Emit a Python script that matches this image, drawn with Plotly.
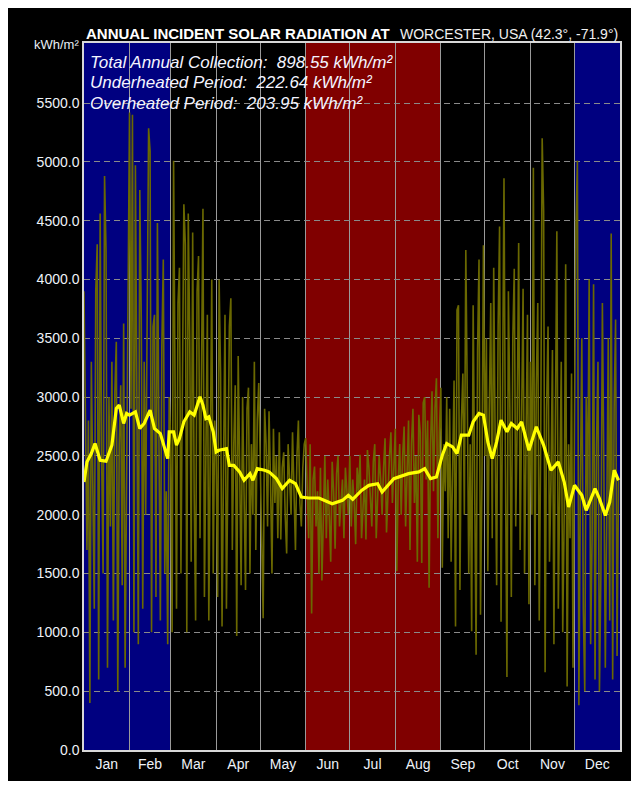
import plotly.graph_objects as go

# ---------------- data ----------------
month_names = ["Jan", "Feb", "Mar", "Apr", "May", "Jun", "Jul", "Aug", "Sep", "Oct", "Nov", "Dec"]
month_lengths = [31, 28, 31, 30, 31, 30, 31, 31, 30, 31, 30, 31]

jan_vals = [3900, 2600, 1700, 2800, 400, 3300, 2100, 1200, 3900, 4300, 600, 4560, 2500, 1500, 4880, 4250, 700, 3000, 1900, 3300, 1100, 3040, 3470, 500, 2600, 3100, 1400, 3625, 700, 2400, 4000]
feb_vals = [5420, 2900, 5400, 1000, 4970, 3000, 900, 4760, 3680, 1200, 3300, 2000, 4200, 5285, 5090, 1000, 3600, 3700, 1300, 4480, 2700, 1100, 3430, 4170, 1500, 2200, 900, 3000]
mar_vals = [2650, 1000, 5010, 3100, 1200, 3800, 4100, 1500, 2900, 4640, 4300, 1000, 4560, 3500, 1600, 4400, 2200, 1100, 3900, 4200, 1800, 3300, 4600, 1300, 2500, 3700, 1100, 3000, 4000, 1500, 2800]
apr_vals = [2500, 1300, 4000, 3200, 1050, 2800, 3700, 1200, 2300, 3600, 3840, 1700, 2600, 3100, 970, 3350, 2400, 1400, 3000, 2200, 1360, 2900, 3080, 1500, 2600, 2000, 3300, 1700, 2800, 3120]
may_vals = [2400, 1800, 1120, 2900, 2600, 1900, 2880, 2300, 1500, 2730, 2100, 2500, 1800, 2700, 1790, 2400, 2530, 2000, 1670, 2600, 2300, 2000, 2700, 2200, 1700, 2500, 2800, 2100, 1900, 2400, 2600]
jun_vals = [2650, 2100, 1800, 2600, 1160, 2300, 2410, 1900, 2200, 1500, 2400, 1440, 2100, 2500, 1800, 2300, 2000, 1600, 2450, 2200, 1710, 2350, 2500, 1900, 2100, 2300, 1800, 2400, 2200, 2000]
jul_vals = [2500, 1900, 2300, 2100, 1750, 2400, 2200, 2510, 1800, 2000, 2300, 1790, 2550, 2400, 2100, 1900, 2450, 2600, 1800, 2200, 2500, 2300, 2000, 2400, 2650, 1850, 2200, 2500, 2700, 2100, 2400]
aug_vals = [2730, 1520, 2300, 2600, 2000, 2500, 2750, 1900, 2400, 2800, 1700, 2600, 2900, 2100, 2500, 1600, 2850, 2700, 1590, 2950, 3000, 2300, 2800, 1380, 2600, 3050, 2200, 2900, 3160, 1800, 2700]
sep_vals = [3080, 1550, 2600, 2200, 3000, 1800, 2900, 1600, 2500, 3140, 1050, 3740, 3780, 1360, 2800, 3200, 2000, 4250, 3000, 1500, 2600, 1010, 3780, 2500, 810, 3400, 4170, 1150, 2300, 4290]
oct_vals = [2500, 3500, 1520, 2900, 3800, 1800, 4100, 2600, 1400, 3600, 4450, 1090, 3200, 4860, 2400, 620, 3900, 2900, 1300, 3500, 4090, 1900, 2800, 4310, 1700, 3000, 3920, 1500, 2700, 3700, 1240]
nov_vals = [3300, 2000, 4950, 1400, 3100, 3800, 1100, 2600, 5200, 4580, 660, 2900, 3600, 1600, 2300, 3400, 900, 2800, 4410, 1200, 2400, 3300, 1000, 2000, 4130, 540, 2600, 1800, 3200, 700]
dec_vals = [2800, 4470, 5010, 380, 2200, 3500, 1200, 500, 3000, 2100, 4000, 900, 1800, 3960, 600, 2600, 3300, 500, 1500, 3800, 2400, 700, 2000, 3500, 1100, 4390, 600, 2900, 3660, 800, 2300]

# moving-average (yellow) line, read at sample days
avg_days = [0, 2, 5, 7.5, 11, 15, 19, 22, 24, 27, 29, 31, 35, 38, 41, 45, 48, 52, 55, 57, 58, 61, 63, 65, 68, 72, 75, 79, 81, 83, 85, 88, 90, 92, 97, 99, 102, 106, 109, 113, 115, 118, 123, 126, 131, 135, 140, 144, 148, 153, 160, 169, 176, 180, 183, 189, 194, 200, 203, 211, 221, 228, 232, 236, 240, 244, 247, 251, 254, 257, 262, 265, 269, 272, 275, 278, 281, 284, 288, 291, 295, 298, 303, 308, 313, 318, 323, 327, 330, 334, 339, 342, 348, 351, 355, 358, 361, 364]
avg_vals = [2278, 2449, 2520, 2605, 2463, 2455, 2591, 2903, 2932, 2776, 2861, 2847, 2875, 2733, 2776, 2889, 2733, 2690, 2562, 2477, 2705, 2705, 2591, 2648, 2790, 2875, 2847, 3003, 2932, 2818, 2832, 2705, 2534, 2548, 2562, 2420, 2420, 2364, 2293, 2349, 2293, 2392, 2378, 2364, 2307, 2222, 2293, 2264, 2150, 2142, 2142, 2094, 2122, 2165, 2131, 2207, 2250, 2264, 2193, 2307, 2349, 2364, 2392, 2307, 2321, 2506, 2605, 2577, 2520, 2676, 2676, 2790, 2861, 2847, 2619, 2477, 2619, 2804, 2705, 2776, 2733, 2790, 2548, 2747, 2591, 2378, 2449, 2278, 2065, 2250, 2165, 2037, 2222, 2137, 1994, 2108, 2378, 2293]

y_ticks = [0, 500, 1000, 1500, 2000, 2500, 3000, 3500, 4000, 4500, 5000, 5500]

title_text = "ANNUAL INCIDENT SOLAR RADIATION AT"
location_text = "WORCESTER, USA (42.3°, -71.9°)"
unit_text = "kWh/m²"
info_lines = ["Total Annual Collection:  898.55 kWh/m²",
              "Underheated Period:  222.64 kWh/m²",
              "Overheated Period:  203.95 kWh/m²"]

# ---------------- derived ----------------
daily_vals = (jan_vals + feb_vals + mar_vals + apr_vals + may_vals + jun_vals +
              jul_vals + aug_vals + sep_vals + oct_vals + nov_vals + dec_vals)
days = list(range(len(daily_vals)))
month_starts = [0]
for n in month_lengths:
    month_starts.append(month_starts[-1] + n)
month_mids = [month_starts[i] + month_lengths[i] / 2 for i in range(12)]
boundaries = month_starts[1:-1]

# page geometry (the page body has an 8px margin)
W, H = 623, 773
L, R, T, B = 84, 622, 43, 750          # plot box in page pixels
OFF = 8
pw, ph = R - L, B - T


def px_x(x):
    return (x - L) / pw


def px_y(y):
    return (B - y) / ph


FONT = "Liberation Sans, Arial"

fig = go.Figure()
fig.add_trace(go.Scatter(x=days, y=daily_vals, mode="lines",
                         line=dict(color="#6a6800", width=1.6),
                         showlegend=False, hoverinfo="skip"))
fig.add_trace(go.Scatter(x=avg_days, y=avg_vals, mode="lines",
                         line=dict(color="#ffff00", width=3.2),
                         showlegend=False, hoverinfo="skip"))

shapes = []
for (a, b, col) in [(month_starts[0], month_starts[2], "#000080"),
                    (month_starts[5], month_starts[8], "#800000"),
                    (month_starts[11], month_starts[12], "#000080")]:
    shapes.append(dict(type="rect", xref="x", yref="paper", x0=a, x1=b, y0=0, y1=1,
                       fillcolor=col, line=dict(width=0), layer="below"))

annotations = []
annotations.append(dict(xref="paper", yref="paper", x=0, y=px_y(34), xanchor="left", yanchor="middle",
                        text="<b>" + title_text + "</b>", showarrow=False,
                        font=dict(family=FONT, size=15, color="white")))
annotations.append(dict(xref="paper", yref="paper", x=1, y=px_y(34), xanchor="right", yanchor="middle",
                        text=location_text, showarrow=False,
                        font=dict(family=FONT, size=14, color="#f0f0f0")))
annotations.append(dict(xref="paper", yref="paper", x=px_x(81), y=px_y(45), xanchor="right", yanchor="middle",
                        text=unit_text, showarrow=False,
                        font=dict(family=FONT, size=13, color="#e8eef5")))
for i, line in enumerate(info_lines):
    annotations.append(dict(xref="paper", yref="paper", x=px_x(88), y=px_y(62 + 20.5 * i),
                            xanchor="left", yanchor="middle",
                            text="<i>" + line + "</i>", showarrow=False,
                            font=dict(family=FONT, size=17, color="#f4f4ff")))

fig.update_layout(
    width=W, height=H,
    margin=dict(l=L - OFF, r=W - (R - OFF), t=T - OFF, b=H - (B - OFF), pad=0),
    paper_bgcolor="black", plot_bgcolor="black",
    shapes=shapes, annotations=annotations,
    showlegend=False,
)
fig.update_xaxes(range=[0, 365], tickmode="array", tickvals=month_mids, ticktext=month_names,
                 showgrid=False, zeroline=False, ticks="", ticklen=0,
                 tickfont=dict(family=FONT, size=14, color="#eef2f8"),
                 showline=True, mirror=True, linecolor="#d8d8d8", linewidth=1.5,
                 minor=dict(tickmode="array", tickvals=boundaries, showgrid=True,
                            gridcolor="#9a9a9a", gridwidth=1, ticks=""))
fig.update_yaxes(range=[0, 6010], tickmode="array", tickvals=y_ticks, tickformat=".1f",
                 showgrid=True, gridcolor="#8a8a8a", gridwidth=1, griddash="6px,4px",
                 zeroline=False, ticks="", ticklen=0,
                 tickfont=dict(family=FONT, size=14, color="#eef2f8"),
                 showline=True, mirror=True, linecolor="#d8d8d8", linewidth=1.5)

fig.write_html("out.html")
